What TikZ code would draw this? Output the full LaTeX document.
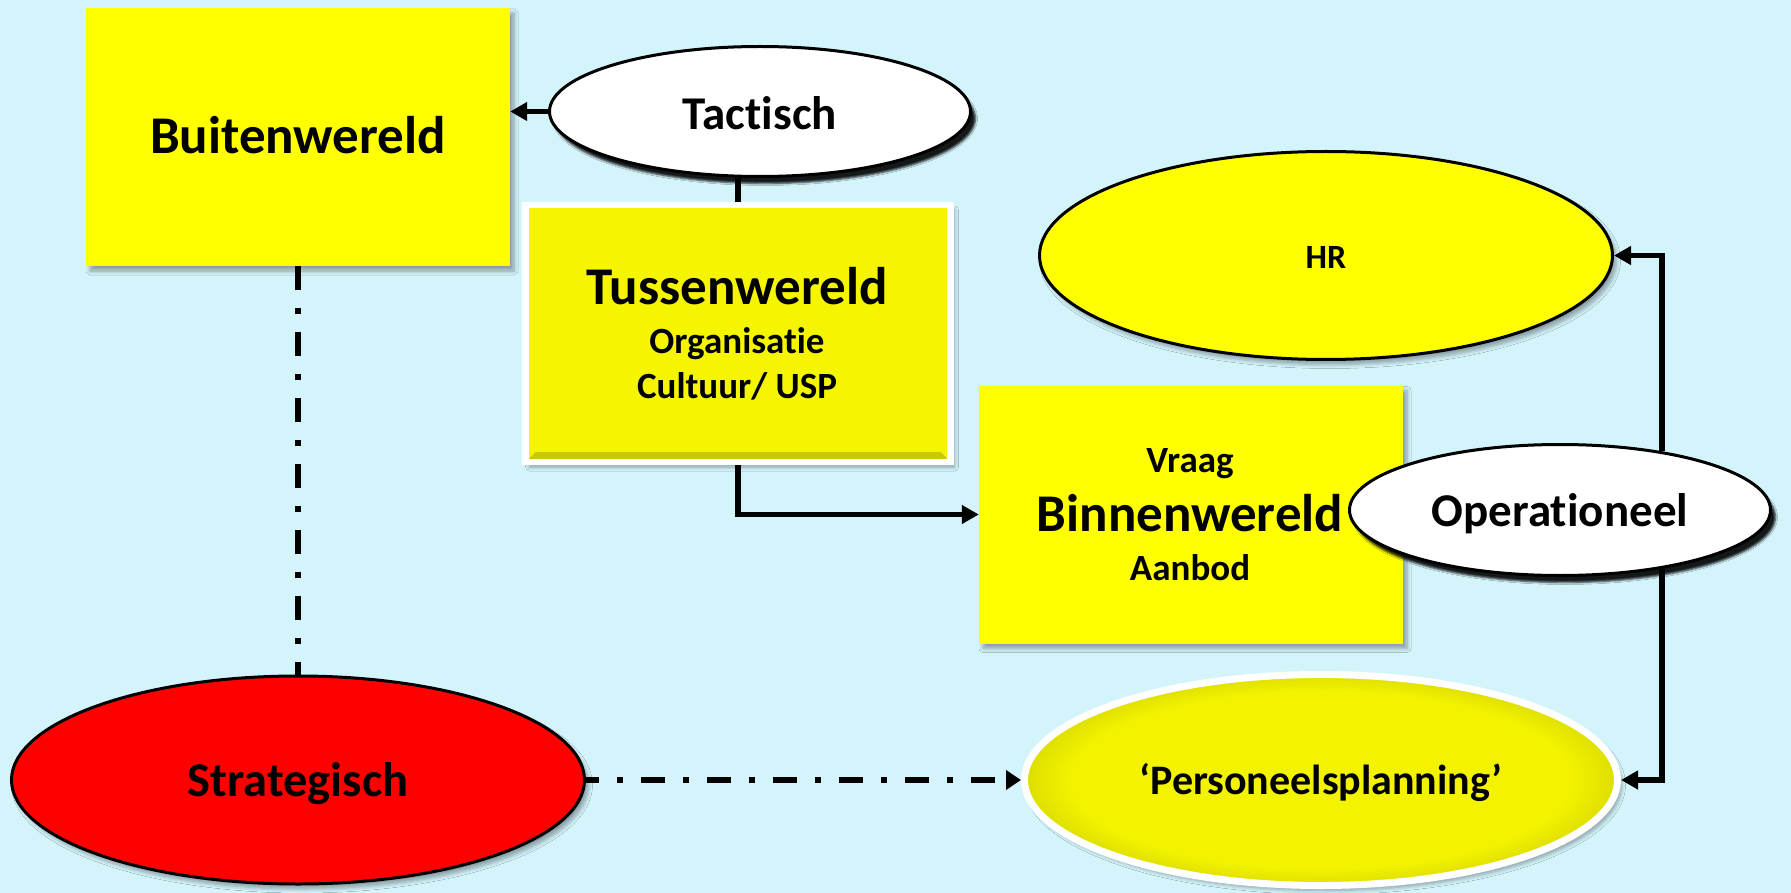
\documentclass[tikz,border=0pt]{standalone}
\usepackage{fontspec}
\setmainfont{Carlito}[Ligatures={NoCommon,NoContextual},Contextuals=NoAlternate]
\usetikzlibrary{arrows.meta,shapes.geometric,shadows.blur}
\definecolor{bgc}{RGB}{212,244,252}
\definecolor{yel}{RGB}{255,255,0}
\definecolor{tyel}{RGB}{245,245,0}
\definecolor{bev}{RGB}{200,200,0}
\definecolor{pyel}{RGB}{243,243,0}
\definecolor{pedge}{RGB}{222,222,0}
\pgfdeclareradialshading{persshade}{\pgfpoint{0bp}{0bp}}{color(0bp)=(pyel); color(21bp)=(pyel); color(25bp)=(pedge); color(50bp)=(pedge)}
\begin{document}
\begin{tikzpicture}[x=1pt,y=-1pt,
  softshadow/.style={blur shadow={shadow xshift=4pt, shadow yshift=-5pt, shadow opacity=35, shadow blur radius=4pt, shadow blur steps=6}},
  hardshadow/.style={blur shadow={shadow xshift=5pt, shadow yshift=-7pt, shadow opacity=90, shadow blur radius=2pt, shadow blur steps=4}},
  bigfont/.style={font=\fontsize{53}{60}\selectfont\bfseries},
  midfont/.style={font=\fontsize{37}{44}\selectfont\bfseries},
  world/.style={rectangle, fill=yel, minimum width=424pt, minimum height=258pt, inner sep=0pt, softshadow, bigfont, text height=33.4pt, text depth=0pt},
  ell/.style={ellipse, draw=black, line width=3pt, inner sep=0pt, font=\fontsize{47}{56}\selectfont\bfseries, text height=33.6pt, text depth=0pt},
  conn/.style={line width=5.7pt},
  tip/.style={-{Triangle[length=17pt,width=18pt]}},
  dashdot/.style={line width=6.8pt, dash pattern=on 24pt off 18pt on 6pt off 18pt}
]
\fill[bgc] (0,0) rectangle (1791,893);
\useasboundingbox (0,0) rectangle (1791,893);

% boxes
\node[world] (buiten) at (298,137) {Buitenwereld};
\node[rectangle, fill=tyel, draw=white, line width=6.5pt, minimum width=425pt, minimum height=257pt, inner sep=0pt, softshadow,
  path picture={\shade[top color=tyel, bottom color=bev] (path picture bounding box.south west) -- (path picture bounding box.south east) -- ([shift={(-10pt,10pt)}]path picture bounding box.south east) -- ([shift={(10pt,10pt)}]path picture bounding box.south west) -- cycle;}]
  (tussen) at (738,333.5) {};
\node[anchor=base, bigfont] (tussen-title) at (737,305) {Tussenwereld};
\node[anchor=base, midfont] (tussen-org) at (737,353) {Organisatie};
\node[anchor=base, midfont] (tussen-usp) at (737,398) {Cultuur/ USP};

\node[world] (binnen) at (1191,514.5) {};
\node[anchor=base, midfont] (binnen-vraag) at (1190,472) {Vraag};
\node[anchor=base, bigfont] (binnen-title) at (1190,531) {Binnenwereld};
\node[anchor=base, midfont] (binnen-aanbod) at (1190,580) {Aanbod};

% ellipses
\node[ell, fill=white, hardshadow, minimum width=421pt, minimum height=130pt, text height=35.6pt] (tact) at (760,111.5) {Tactisch};
\node[ell, fill=yel, softshadow, minimum width=573pt, minimum height=208pt, font=\fontsize{34}{40}\selectfont\bfseries, text height=25.4pt] (hr) at (1326,255.5) {HR};
\node[ell, fill=white, hardshadow, minimum width=421pt, minimum height=131pt] (oper) at (1560,510) {Operationeel};
\node[ell, fill=red, softshadow, minimum width=573pt, minimum height=208pt, font=\fontsize{48.5}{56}\selectfont\bfseries, text height=33.5pt] (strat) at (298,780) {Strategisch};
\node[ell, draw=white, line width=7pt, shade, shading=persshade, softshadow, minimum width=593pt, minimum height=211pt, font=\fontsize{42}{50}\selectfont\bfseries, text height=29.5pt] (pers) at (1321,780) {‘Personeelsplanning’};

% connectors
\draw[conn,tip] (tact.west) -- (tact.west -| buiten.east);
\draw[conn] (tact.south -| tussen.north) -- (tussen.north);
\draw[conn,tip] (tussen.south) |- (binnen.west);
\draw[conn,tip] (oper.30) |- (hr.east);
\draw[conn,tip] (oper.-30) |- (pers.east);
\draw[dashdot] (buiten.south) -- (strat.north);
\draw[dashdot, dash phase=11pt, -{Triangle[length=15pt,width=19pt]}] (strat.east) -- (pers.west);
\end{tikzpicture}
\end{document}
